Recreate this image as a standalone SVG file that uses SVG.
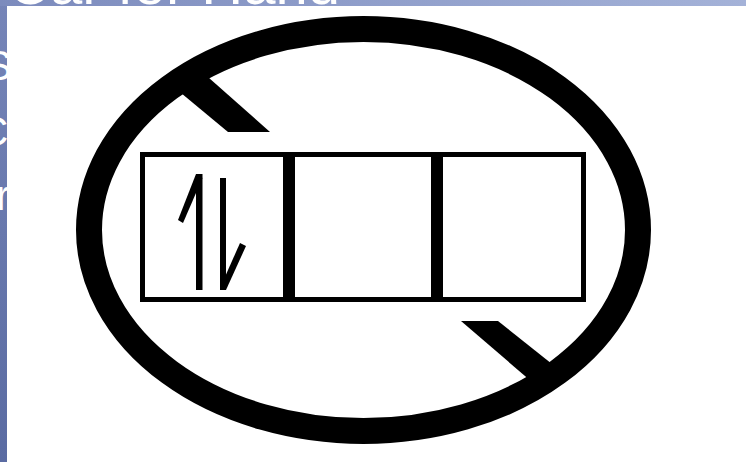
<svg xmlns="http://www.w3.org/2000/svg" width="746" height="462" viewBox="0 0 746 462">
  <defs>
    <linearGradient id="topg" x1="0" y1="0" x2="1" y2="0">
      <stop offset="0" stop-color="#7c8bbd"/>
      <stop offset="1" stop-color="#a4b2d8"/>
    </linearGradient>
    <linearGradient id="leftg" x1="0" y1="0" x2="0" y2="1">
      <stop offset="0" stop-color="#7685b8"/>
      <stop offset="1" stop-color="#5a6ba2"/>
    </linearGradient>
    <style>
      .slide { font-family: "Liberation Sans", Arial, sans-serif; font-size: 42px; fill: #ffffff; }
      .title { font-size: 58px; }
      .ink { fill: #000000; }
      .ring { fill: none; stroke: #000000; stroke-width: 26; }
      .box { fill: #ffffff; stroke: #000000; stroke-width: 5; }
    </style>
  </defs>
  <!-- slide background -->
  <rect x="0" y="0" width="746" height="462" fill="url(#leftg)"/>
  <rect x="0" y="0" width="746" height="6" fill="url(#topg)"/>
  <text class="slide title" x="8" y="4">Car for Hand</text>
  <text class="slide" x="-16" y="80">S</text>
  <text class="slide" x="-22" y="146">C</text>
  <text class="slide" x="-4" y="210">r</text>
  <!-- picture area -->
  <rect x="7" y="6" width="739" height="456" fill="#ffffff"/>

  <g id="cycle">
    <ellipse class="ring" cx="363.5" cy="230" rx="274.5" ry="201"/>
    <polygon class="ink" points="200,70 270,132 228,132 175,88"/>
    <polygon class="ink" points="461,321 498,321 552,364 532,382"/>
  </g>

  <g id="orbitals">
    <rect class="box" x="142.5" y="154.5" width="441" height="145"/>
    <rect class="ink" x="283" y="152" width="12" height="150"/>
    <rect class="ink" x="431" y="152" width="12" height="150"/>
  </g>

  <g id="connectors">
    <g id="spin-up">
      <rect class="ink" x="196" y="174" width="6.5" height="116"/>
      <polygon class="ink" points="196,174 202.5,178 183,223 178,220"/>
    </g>
    <g id="spin-down">
      <rect class="ink" x="220" y="178" width="6" height="112"/>
      <polygon class="ink" points="220,288 226,290 246,246 240,243"/>
    </g>
  </g>
</svg>
